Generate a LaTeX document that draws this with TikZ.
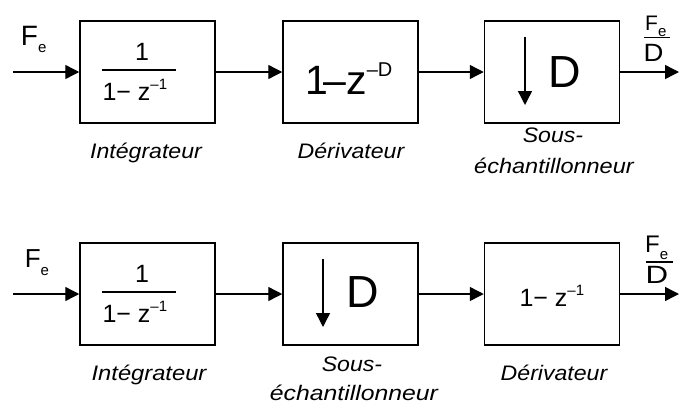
\documentclass[tikz,border=0pt]{standalone}
\usepackage{fontspec}
\usepackage{graphicx}
\setmainfont{Liberation Sans}
\usetikzlibrary{arrows.meta}
\newcommand{\myfs}[1]{\fontsize{#1pt}{#1pt}\selectfont}
\newcommand{\stretchlab}[2][1.1]{\scalebox{#1}[1]{#2}}
\begin{document}
\begin{tikzpicture}[x=1pt,y=-1pt,
  blk/.style={draw, line width=1.5pt, minimum width=135pt, minimum height=102pt, inner sep=0pt},
  txt/.style={inner sep=0pt, anchor=base},
  txtw/.style={inner sep=0pt, anchor=base west},
  lbl/.style={inner sep=0pt, anchor=base, font=\myfs{21}\itshape},
  sig/.style={line width=1.4pt, -{Triangle[length=14pt,width=14pt]}},
  fracbar/.style={line width=1.1pt}]
\useasboundingbox (0,0) rectangle (679,405);

% ---------- top chain ----------
\node[blk] (b1) at (147.5,72) {};
\node[blk] (b2) at (350.5,72) {};
\node[blk] (b3) at (552,72) {};
\coordinate (in1) at (13,72);
\coordinate (out1) at (679,72);
\draw[sig] (in1) -- (b1.west);
\draw[sig] (b1.east) -- (b2.west);
\draw[sig] (b2.east) -- (b3.west);
\draw[sig] (b3.east) -- (out1);

% input label
\node[txtw, font=\myfs{28}] (fe1) at (20.7,45) {F\raisebox{-7pt}{\myfs{15}e}};
% integrator
\node[txt, font=\myfs{25}] (num1) at (142,60) {1};
\coordinate (fa1) at (102,70);
\coordinate (fb1) at (176,70);
\draw[fracbar] (fa1) -- (fb1);
\node[txtw, font=\myfs{25}] (den1) at (102.3,100) {1− z\raisebox{11pt}{\myfs{15}–1}};
% derivator (comb)
\node[txtw, font=\myfs{41}] (comb1) at (305.5,94) {1\kern-5pt–z\raisebox{18pt}{\myfs{20}–D}};
% decimator
\coordinate (da1) at (525,37);
\coordinate (db1) at (525,105);
\draw[sig] (da1) -- (db1);
\node[txt, font=\myfs{45}] (dd1) at (564.7,87) {D};
% output label
\node[txtw, font=\myfs{21}] (fo1) at (645,30) {F\raisebox{-6pt}{\myfs{15}e}};
\coordinate (oa1) at (644,37.3);
\coordinate (ob1) at (670,37.3);
\draw[fracbar] (oa1) -- (ob1);
\node[txt, font=\myfs{25}] (od1) at (653.5,61) {\scalebox{1.1}[1]{D}};

% labels
\node[lbl] (l11) at (146,158) {\stretchlab{Intégrateur}};
\node[lbl] (l12) at (351,158) {\stretchlab{Dérivateur}};
\node[lbl] (l13a) at (553,142) {\stretchlab{Sous-}};
\node[lbl] (l13b) at (554,173) {\stretchlab[1.12]{échantillonneur}};

% ---------- bottom chain ----------
\node[blk] (c1) at (147.5,294) {};
\node[blk] (c2) at (350.5,294) {};
\node[blk] (c3) at (552,294) {};
\coordinate (in2) at (13,294);
\coordinate (out2) at (679,294);
\draw[sig] (in2) -- (c1.west);
\draw[sig] (c1.east) -- (c2.west);
\draw[sig] (c2.east) -- (c3.west);
\draw[sig] (c3.east) -- (out2);

% input label
\node[txtw, font=\myfs{26}] (fe2) at (24.6,267) {F\raisebox{-8pt}{\myfs{15}e}};
% integrator
\node[txt, font=\myfs{25}] (num2) at (142,282) {1};
\coordinate (fa2) at (102,292);
\coordinate (fb2) at (176,292);
\draw[fracbar] (fa2) -- (fb2);
\node[txtw, font=\myfs{25}] (den2) at (102.3,322) {1− z\raisebox{11pt}{\myfs{15}–1}};
% decimator
\coordinate (da2) at (323,259);
\coordinate (db2) at (323,327);
\draw[sig] (da2) -- (db2);
\node[txt, font=\myfs{45}] (dd2) at (362.7,307) {D};
% derivator
\node[txtw, font=\myfs{25}] (comb2) at (519.3,306) {1− z\raisebox{11pt}{\myfs{15}–1}};
% output label
\node[txtw, font=\myfs{24}] (fo2) at (645,252) {F\raisebox{-7pt}{\myfs{15}e}};
\coordinate (oa2) at (646,262);
\coordinate (ob2) at (673,262);
\draw[fracbar] (oa2) -- (ob2);
\node[txt, font=\myfs{25}] (od2) at (657,283) {\scalebox{1.25}[1]{D}};

% labels
\node[lbl] (l21) at (149,380) {\stretchlab[1.13]{Intégrateur}};
\node[lbl] (l22a) at (352,371) {\stretchlab{Sous-}};
\node[lbl] (l22b) at (354,400) {\stretchlab[1.18]{échantillonneur}};
\node[lbl] (l23) at (554,380) {\stretchlab{Dérivateur}};
\end{tikzpicture}
\end{document}
